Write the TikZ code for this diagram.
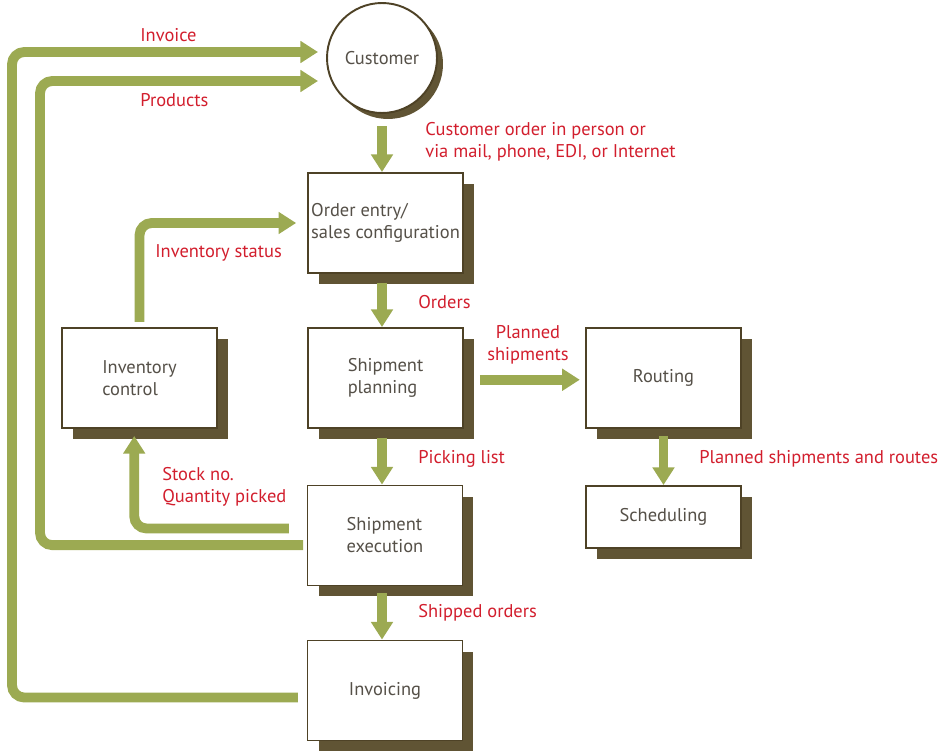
\documentclass[tikz,border=0pt]{standalone}
\usepackage{fontspec}
\setmainfont{PT Sans}
\usetikzlibrary{arrows.meta,shadows,calc}
\definecolor{flowgreen}{RGB}{156,170,82}
\definecolor{shadowbrown}{RGB}{96,84,52}
\definecolor{boxline}{RGB}{78,66,38}
\definecolor{boxtext}{RGB}{85,80,72}
\definecolor{labelred}{RGB}{210,30,45}

\begin{document}
\begin{tikzpicture}[x=0.02cm, y=-0.02cm,
	font=\fontsize{10.5}{12.5}\selectfont,
	stage/.style={draw=boxline, line width=1.1pt, fill=white, text=boxtext, align=left,
		minimum width=3.1cm, minimum height=2cm, inner sep=2pt,
		drop shadow={shadow xshift=0.22cm, shadow yshift=-0.22cm, fill=shadowbrown, opacity=1}},
	flow/.style={line width=5.6pt, draw=flowgreen, rounded corners=7pt,
		-{Triangle[width=12pt, length=10pt]}},
	note/.style={text=labelred, anchor=west, align=left, inner sep=0pt}]
			%%%%% START %%%%%
			\useasboundingbox (0,0) rectangle (939,753);
			
			\node[circle, draw=boxline, line width=1.1pt, fill=white, text=boxtext, minimum size=2.2cm,
				drop shadow={shadow xshift=0.12cm, shadow yshift=-0.12cm, fill=shadowbrown, opacity=1}]
				(customer) at (382, 58) {Customer};
			
			\node[stage] (orderentry) at (385.5, 223) {Order entry/\\sales configuration};
			\node[stage] (planning) at (385.5, 378) {Shipment\\planning};
			\node[stage] (invcontrol) at (139.5, 378) {Inventory\\control};
			\node[stage] (routing) at (663.5, 378) {Routing};
			\node[stage, minimum height=1.24cm] (scheduling) at (663.5, 517) {Scheduling};
			\node[stage] (execution) at (385, 535.5) {Shipment\\execution};
			\node[stage] (invoicing) at (385, 690.5) {Invoicing};
			
			\coordinate (invoicein) at (318, 52);
			\coordinate (productsin) at (318, 81);
			\coordinate (laneinvoice) at (12, 0);
			\coordinate (laneproducts) at (40, 0);
			
			\draw[flow] ([yshift=-7pt]customer.south) -- (customer.south |- orderentry.north);
			\draw[flow] ([yshift=-5pt]orderentry.south -| customer.south) -- (customer.south |- planning.north);
			\draw[flow] ([yshift=-5pt]planning.south -| customer.south) -- (customer.south |- execution.north);
			\draw[flow] ([yshift=-4pt]execution.south -| customer.south) -- (customer.south |- invoicing.north);
			\draw[flow] ([xshift=9pt,yshift=-1pt]planning.east) -- ([xshift=-3pt,yshift=-1pt]routing.west);
			\draw[flow] ([yshift=-4pt]routing.south) -- (scheduling.north);
			
			\draw[flow] ([yshift=3pt]invcontrol.north) |- ([xshift=-6pt]orderentry.west);
			\draw[flow] ([xshift=-10pt,yshift=4pt]execution.west) -| ([xshift=-3pt,yshift=-4pt]invcontrol.south);
			\draw[flow] ([xshift=-2pt,yshift=-5.5pt]execution.west) -| (laneproducts |- productsin) -- (productsin);
			\draw[flow] ([xshift=-5pt,yshift=-4pt]invoicing.west) -| (laneinvoice |- invoicein) -- (invoicein);
			
			\node[note] (invoicelbl) at (140, 35) {Invoice};
			\node[note] (productslbl) at (140, 100) {Products};
			\node[note] (custorderlbl) at (425, 142) {Customer order in person or\\via mail, phone, EDI, or Internet};
			\node[note] (statuslbl) at (155, 253) {Inventory status};
			\node[note] (orderslbl) at (418, 302) {Orders};
			\node[note, anchor=center, align=center] (plannedlbl) at (528, 345) {Planned\\shipments};
			\node[note] (pickinglbl) at (418, 459) {Picking list};
			\node[note] (routeslbl) at (699, 459) {Planned shipments and routes};
			\node[note] (stocklbl) at (162, 487) {Stock no.\\Quantity picked};
			\node[note] (shippedlbl) at (418, 613) {Shipped orders};
			
			%%%%% END %%%%%
		\end{tikzpicture}
\end{document}
